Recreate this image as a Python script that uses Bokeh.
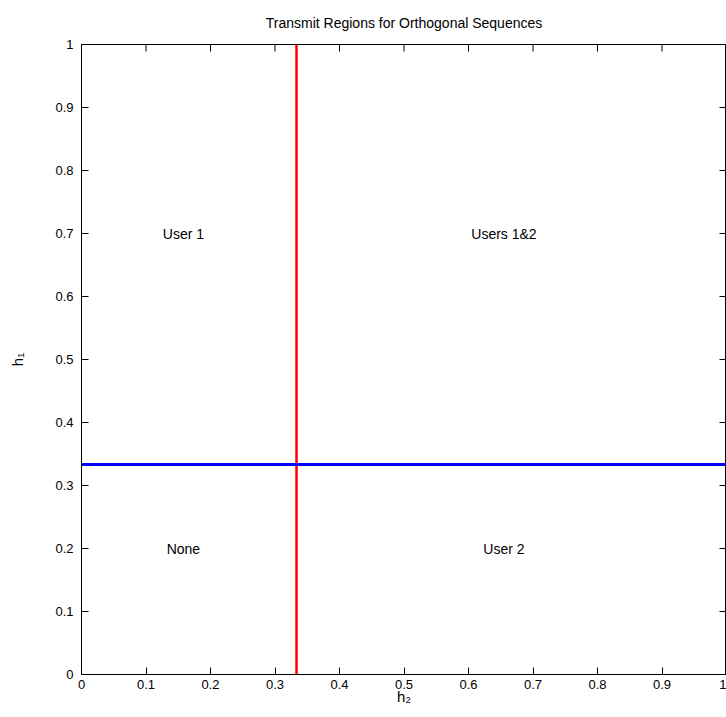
from bokeh.plotting import figure
from bokeh.models import Range1d, LinearAxis, FixedTicker, ColumnDataSource
from bokeh.core.properties import value
from bokeh.embed import file_html
from bokeh.resources import INLINE

# ---- data ----
h2_threshold = 1.0 / 3.0      # vertical red boundary
h1_threshold = 1.0 / 3.0      # horizontal blue boundary
region_names = ["User 1", "Users 1&2", "None", "User 2"]
region_x = [0.158, 0.655, 0.158, 0.655]
region_y = [0.70, 0.70, 0.20, 0.20]
tick_values = [0, 0.1, 0.2, 0.3, 0.4, 0.5, 0.6, 0.7, 0.8, 0.9, 1]
tick_labels = ["0", "0.1", "0.2", "0.3", "0.4", "0.5", "0.6", "0.7", "0.8", "0.9", "1"]
edge_high = [1] * len(tick_values)

FONT = "Liberation Sans"

p = figure(width=726, height=717, output_backend="svg", toolbar_location=None,
           x_range=Range1d(0, 1), y_range=Range1d(0, 1),
           x_axis_location=None, y_axis_location=None,
           title="Transmit Regions for Orthogonal Sequences",
           min_border_left=81, min_border_right=0, min_border_top=44, min_border_bottom=43)
p.grid.visible = False
p.background_fill_color = "white"
p.border_fill_color = "white"
p.outline_line_color = "black"
p.outline_line_width = 1

p.title.align = "center"
p.title.vertical_align = "top"
p.title.text_font = FONT
p.title.text_font_size = "14px"
p.title.text_font_style = "normal"
p.title.text_color = "black"
p.title.offset = 0
p.title.standoff = 24

overrides = {v: l for v, l in zip(tick_values, tick_labels)}

def style_axis(ax, standoff):
    ax.ticker = FixedTicker(ticks=tick_values)
    ax.major_label_overrides = overrides
    ax.major_tick_in = 7
    ax.major_tick_out = 0
    ax.minor_tick_line_color = None
    ax.axis_line_color = "black"
    ax.major_tick_line_color = "black"
    ax.major_label_text_font = FONT
    ax.major_label_text_color = "black"
    ax.major_label_text_font_size = "13px"
    ax.major_label_standoff = standoff
    ax.axis_label_text_font = FONT
    ax.axis_label_text_font_style = "normal"
    ax.axis_label_text_font_size = "15px"
    ax.axis_label_text_color = "black"

bottom = LinearAxis(axis_label="h\u2082")
style_axis(bottom, 5)
bottom.axis_label_standoff = -4
left = LinearAxis(axis_label="h\u2081")
style_axis(left, 8)
left.axis_label_standoff = 26
p.add_layout(bottom, "below")
p.add_layout(left, "left")

# inward tick marks on the top and right edges (box)
p.scatter(x=tick_values, y=edge_high, marker="dash", size=14, angle=1.5708,
          line_color="black", line_width=1)
p.scatter(x=edge_high, y=tick_values, marker="dash", size=14,
          line_color="black", line_width=1)

# boundaries
p.line(x=[h2_threshold, h2_threshold], y=[0, 1], line_color="#ff0000", line_width=2.5)
p.line(x=[0, 1], y=[h1_threshold, h1_threshold], line_color="#0000ff", line_width=3)

src = ColumnDataSource(dict(x=region_x, y=region_y, t=region_names))
p.text(x="x", y="y", text="t", source=src, text_font=value(FONT), text_font_size="14px",
       text_align="center", text_baseline="middle", text_color="black")

open("out.html", "w").write(file_html(p, INLINE))
